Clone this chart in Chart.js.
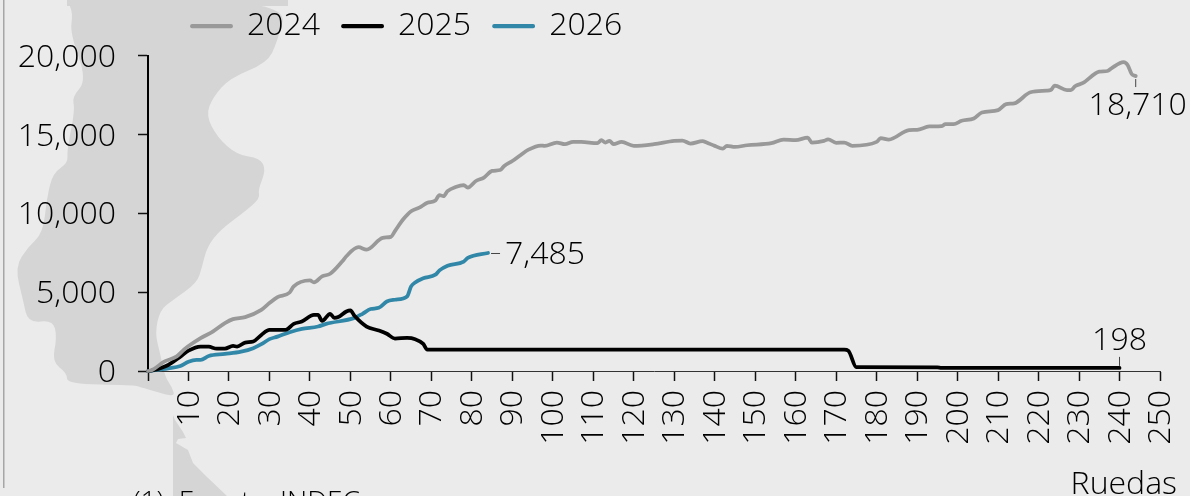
<!DOCTYPE html>
<html><head><meta charset="utf-8">
<style>html,body{margin:0;padding:0;background:#ebebeb;overflow:hidden}canvas{display:block}</style>
<script src="https://cdn.jsdelivr.net/npm/chart.js@4"></script>
</head><body><canvas id="c" width="1190" height="496"></canvas>
<script>
const seriesNames = ['2024','2025','2026'];
const days2024 = [0,1,4,7,9,13,16,19,21,24,28,30,32,35,36,40,41,43,45,48,49,52,54,58,60,61,63,65,67,69,71,72,73,74,76,78,79,81,83,85,87,88,90,92,94,97,98,101,103,105,107,111,112,113,114,115,117,120,125,130,132,134,137,138,140,142,143,145,148,154,157,160,163,164,167,168,170,172,174,180,181,183,188,190,193,196,197,199,201,204,206,210,212,214,218,222,223,224,227,228,229,231,235,237,238,241,242,243,244];
const values2024 = [0,60,590,910,1380,2080,2500,3040,3290,3420,3880,4310,4690,4980,5370,5750,5620,6000,6170,6960,7280,7850,7700,8450,8510,8870,9610,10140,10360,10670,10820,11160,11090,11410,11670,11790,11630,12050,12270,12690,12750,13000,13320,13690,14040,14300,14280,14490,14390,14530,14530,14450,14640,14490,14600,14390,14530,14280,14390,14600,14620,14430,14580,14490,14280,14110,14280,14210,14320,14450,14680,14640,14810,14490,14600,14700,14470,14490,14280,14530,14770,14680,15280,15300,15510,15530,15660,15660,15870,16020,16400,16550,16930,16980,17680,17780,17820,18100,17820,17820,18060,18270,18990,19030,19200,19590,19410,18840,18710];
const days2025 = [0,1,5,8,10,13,15,17,19,21,22,24,26,28,30,34,36,38,41,42,43,45,46,47,49,50,51,54,57,59,61,64,66,68,69,172,173,175,195,196,240];
const values2025 = [0,30,380,910,1290,1550,1540,1420,1420,1590,1550,1800,1870,2290,2610,2610,2990,3140,3560,3560,3180,3630,3370,3420,3770,3840,3500,2820,2570,2360,2060,2100,2020,1720,1350,1350,1290,240,230,200,198];
const days2026 = [0,1,5,8,10,12,13,15,19,23,26,28,30,32,35,38,42,44,51,53,55,57,59,61,64,65,66,68,71,72,74,78,79,84];
const values2026 = [0,30,170,320,590,700,700,950,1080,1230,1450,1700,2020,2180,2460,2670,2820,2990,3370,3630,3930,4010,4410,4520,4730,5370,5620,5880,6110,6380,6680,6940,7170,7485];
const colors = ['#999999','#000000','#3187a8'];
const yTicks = [0,5000,10000,15000,20000];
const FONT = '"Open Sans"';
const pts = (d,v)=>d.map((x,i)=>({x,y:v[i]}));

const mapMain = [[67,0],[288,0],[277,43],[267,63],[230,78],[213,97],[206,115],[217,137],[237,155],[260,158],[266,170],[258,190],[260,198],[247,210],[220,230],[207,247],[202,267],[197,283],[173,300],[160,310],[155,333],[160,353],[165,377],[172,387],[175,397],[157,392],[140,387],[133,385],[67,384],[67,373],[52,362],[57,337],[53,320],[28,323],[23,300],[15,267],[28,247],[43,233],[47,197],[53,173],[68,163],[67,150],[75,110],[72,97],[87,80],[70,33],[73,13]];
const mapLow = [[173,415],[175,420],[183,432],[186,438],[178,439],[176,443],[188,450],[193,463],[207,477],[227,496],[173,496]];

function smoothPoly(c,poly){
  const n=poly.length, mid=(a,b)=>[(a[0]+b[0])/2,(a[1]+b[1])/2];
  c.beginPath();
  const s=mid(poly[n-1],poly[0]);
  c.moveTo(s[0],s[1]);
  for(let i=0;i<n;i++){const m=mid(poly[i],poly[(i+1)%n]);c.quadraticCurveTo(poly[i][0],poly[i][1],m[0],m[1]);}
  c.closePath();c.fill();
}

const decor = {
  id:'decor',
  afterLayout(chart){
    const l = chart.legend;
    l.left = 192 - 23; l.right = 1190; l.top = 10 - 23;
  },
  beforeDraw(chart){
    const c = chart.ctx;
    c.save();
    c.fillStyle='#ebebeb'; c.fillRect(0,0,1190,496);
    c.filter='blur(0.6px)';
    c.fillStyle='#d5d5d5';
    c.fillRect(67,0,221,6);
    smoothPoly(c,mapMain);
    c.beginPath();
    mapLow.forEach((p,i)=> i?c.lineTo(p[0],p[1]):c.moveTo(p[0],p[1]));
    c.closePath(); c.fill();
    c.filter='none';
    c.fillStyle='#a6a6a6'; c.fillRect(3,0,1.5,488);
    c.restore();
  },
  afterDatasetsDraw(chart){
    const c = chart.ctx, X = chart.scales.x, Y = chart.scales.y;
    const end = (d,v)=>({x:X.getPixelForValue(d.at(-1)), y:Y.getPixelForValue(v.at(-1))});
    const e24 = end(days2024,values2024), e25 = end(days2025,values2025), e26 = end(days2026,values2026);
    c.save();
    c.strokeStyle='#444'; c.lineWidth=1;
    c.beginPath();
    c.moveTo(e26.x+3,e26.y+0.5); c.lineTo(e26.x+12,e26.y+0.5);
    c.moveTo(e24.x,e24.y+3); c.lineTo(e24.x,e24.y+11);
    c.moveTo(e25.x,e25.y-2); c.lineTo(e25.x,e25.y-11);
    c.stroke();
    c.fillStyle='#000'; c.textBaseline='alphabetic';
    c.font=`300 32px ${FONT}`;
    c.textAlign='left'; c.fillText(values2026.at(-1).toLocaleString('en-US'), e26.x+17, e26.y+11);
    c.textAlign='center';
    c.fillText(values2024.at(-1).toLocaleString('en-US'), e24.x+2, e24.y+39);
    c.fillText(values2025.at(-1).toLocaleString('en-US'), e25.x, e25.y-18);
    c.textAlign='right'; c.fillText('Ruedas',1177,494);
    c.textAlign='left'; c.font=`300 28px ${FONT}`;
    c.fillText('(1)  Fuente: INDEC',133,511);
    c.restore();
  }
};

new Chart(document.getElementById('c'),{
  type:'line',
  plugins:[decor],
  data:{datasets:[
    {label:seriesNames[0],data:pts(days2024,values2024),borderColor:colors[0],backgroundColor:colors[0],clip:false,cubicInterpolationMode:'monotone'},
    {label:seriesNames[1],data:pts(days2025,values2025),borderColor:colors[1],backgroundColor:colors[1],clip:false,cubicInterpolationMode:'monotone'},
    {label:seriesNames[2],data:pts(days2026,values2026),borderColor:colors[2],backgroundColor:colors[2],clip:false,cubicInterpolationMode:'monotone'}
  ]},
  options:{
    responsive:false,animation:false,
    layout:{autoPadding:false,padding:{top:-9.3,right:30,left:0,bottom:0}},
    elements:{point:{radius:0},line:{borderWidth:3.75,borderCapStyle:'round',borderJoinStyle:'round'}},
    plugins:{
      title:{display:false},tooltip:{enabled:false},
      legend:{display:true,position:'top',align:'start',
        labels:{boxWidth:39,boxHeight:0.5,padding:23,color:'#000',font:{family:FONT,size:32,weight:'300'}}}
    },
    scales:{
      x:{type:'linear',min:0,max:250,
        afterFit(s){s.height=125;s.paddingRight=0;s.paddingLeft=0;},
        border:{color:'#333',width:1},
        grid:{drawOnChartArea:false,drawTicks:true,tickLength:10,tickColor:'#111',tickWidth:1.5},
        ticks:{stepSize:10,minRotation:90,maxRotation:90,padding:9,labelOffset:1,autoSkip:false,color:'#000',
          font:{family:FONT,size:32,weight:'300'},callback:v=>v===0?'':String(v)}},
      y:{min:0,max:20000,
        afterFit(s){s.width=148;s.paddingTop=0;s.paddingBottom=0;},
        afterBuildTicks(s){s.ticks=yTicks.map(value=>({value}));},
        border:{color:'#000',width:2},
        grid:{drawOnChartArea:false,drawTicks:true,tickLength:10,tickColor:'#111',tickWidth:1.5},
        ticks:{padding:22,labelOffset:2,color:'#000',font:{family:FONT,size:32,weight:'300'},callback:v=>v.toLocaleString('en-US')}}
    }
  }
});
</script></body></html>
